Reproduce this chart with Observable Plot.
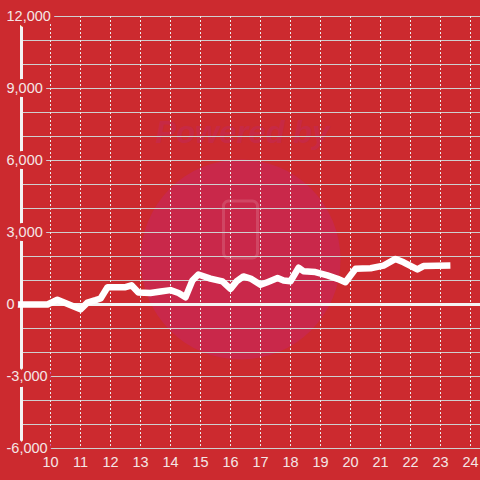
<!DOCTYPE html>
<html>
<head>
<meta charset="utf-8">
<script src="https://cdn.jsdelivr.net/npm/d3@7"></script>
<script src="https://cdn.jsdelivr.net/npm/@observablehq/plot@0.6"></script>
<style>
  html, body { margin: 0; padding: 0; background: #cc2a2f; }
  #chart { width: 480px; height: 480px; }
</style>
</head>
<body>
<div id="chart"></div>
<script>
// Hour of day (x) and value (y)
const hours = [8.9, 9.9, 10.23, 11.0, 11.23, 11.5, 11.67, 11.9, 12.5, 12.7, 12.93, 13.33, 13.67, 14.0, 14.27, 14.5, 14.73, 14.93, 15.33, 15.73, 16.0, 16.2, 16.43, 16.67, 17.0, 17.23, 17.57, 17.77, 18.0, 18.27, 18.43, 18.83, 19.23, 19.57, 19.83, 20.17, 20.4, 20.67, 21.1, 21.5, 21.77, 22.23, 22.43, 23.33];
const values = [0, 0, 200, -200, 80, 180, 250, 720, 720, 800, 500, 480, 540, 600, 480, 300, 1000, 1250, 1080, 960, 650, 960, 1170, 1080, 820, 930, 1100, 1000, 970, 1530, 1390, 1350, 1210, 1070, 930, 1490, 1500, 1510, 1620, 1900, 1760, 1460, 1600, 1620];

const yTicks = [-6000, -3000, 0, 3000, 6000, 9000, 12000];
const yGrid = [-6000, -5000, -4000, -3000, -2000, -1000, 0, 1000, 2000, 3000, 4000, 5000, 6000, 7000, 8000, 9000, 10000, 11000, 12000];
const xTicks = [10, 11, 12, 13, 14, 15, 16, 17, 18, 19, 20, 21, 22, 23, 24];
const watermarkText = ["Powered by"];

const data = hours.map((h, i) => ({hour: h, value: values[i]}));

const BG = "#cc2a2f";
const LABEL = "#f4e6e6";

// rounded-rectangle icon symbol for the watermark
const iconSymbol = {
  draw(ctx, size) {
    const w = 34, h = 57, r = 5, x0 = -w / 2, y0 = -h / 2;
    ctx.moveTo(x0 + r, y0);
    ctx.lineTo(x0 + w - r, y0);
    ctx.arcTo(x0 + w, y0, x0 + w, y0 + r, r);
    ctx.lineTo(x0 + w, y0 + h - r);
    ctx.arcTo(x0 + w, y0 + h, x0 + w - r, y0 + h, r);
    ctx.lineTo(x0 + r, y0 + h);
    ctx.arcTo(x0, y0 + h, x0, y0 + h - r, r);
    ctx.lineTo(x0, y0 + r);
    ctx.arcTo(x0, y0, x0 + r, y0, r);
    ctx.closePath();
  }
};

const chart = Plot.plot({
  width: 480,
  height: 480,
  marginLeft: 20,
  marginRight: 0,
  marginTop: 16,
  marginBottom: 32,
  style: {
    background: BG,
    fontFamily: "'Liberation Sans', Arial, sans-serif",
    fontSize: "14px",
    color: LABEL,
    overflow: "visible"
  },
  x: {domain: [9, 24.3333], axis: null},
  y: {domain: [-6000, 12000], axis: null},
  marks: [
    // watermark
    Plot.dot([0], {frameAnchor: "middle", r: 100, dx: -10, dy: 27, fill: "#c9284a", stroke: "none"}),
    Plot.dot([0], {frameAnchor: "middle", symbol: iconSymbol, r: 10, dx: -10, dy: -3, fill: "none", stroke: "#ffffff", strokeOpacity: 0.14, strokeWidth: 3}),
    Plot.text(watermarkText, {frameAnchor: "middle", dx: -8, dy: -99, text: d => d, fontSize: 31, fontWeight: "bold", fontStyle: "italic", fill: "#c72944"}),
    // grid
    Plot.ruleY(yGrid, {y: d => d, stroke: "#cfcfcf", strokeWidth: 1}),
    Plot.ruleX(xTicks, {x: d => d, stroke: "#ececec", strokeWidth: 1, strokeDasharray: "2,2"}),
    Plot.ruleY([0], {y: d => d, stroke: "#f4f4f4", strokeWidth: 3}),
    Plot.ruleX([9], {x: d => d, dx: 1, stroke: "#f4f4f4", strokeWidth: 3}),
    // series
    Plot.line(data, {x: "hour", y: "value", stroke: "#ffffff", strokeWidth: 6.5, strokeLinejoin: "round", strokeLinecap: "butt"}),
    // y tick labels with background halo
    Plot.text(yTicks, {
      y: d => d,
      frameAnchor: "left",
      textAnchor: "start",
      dx: -14,
      text: d => d.toLocaleString("en-US"),
      fill: LABEL,
      stroke: BG,
      strokeWidth: 8,
      fontSize: 14.5
    }),
    // x axis labels
    Plot.axisX(xTicks, {tickSize: 0, tickPadding: 8, fontSize: 14.5, color: LABEL, label: null})
  ]
});

document.getElementById("chart").appendChild(chart);
</script>
</body>
</html>
